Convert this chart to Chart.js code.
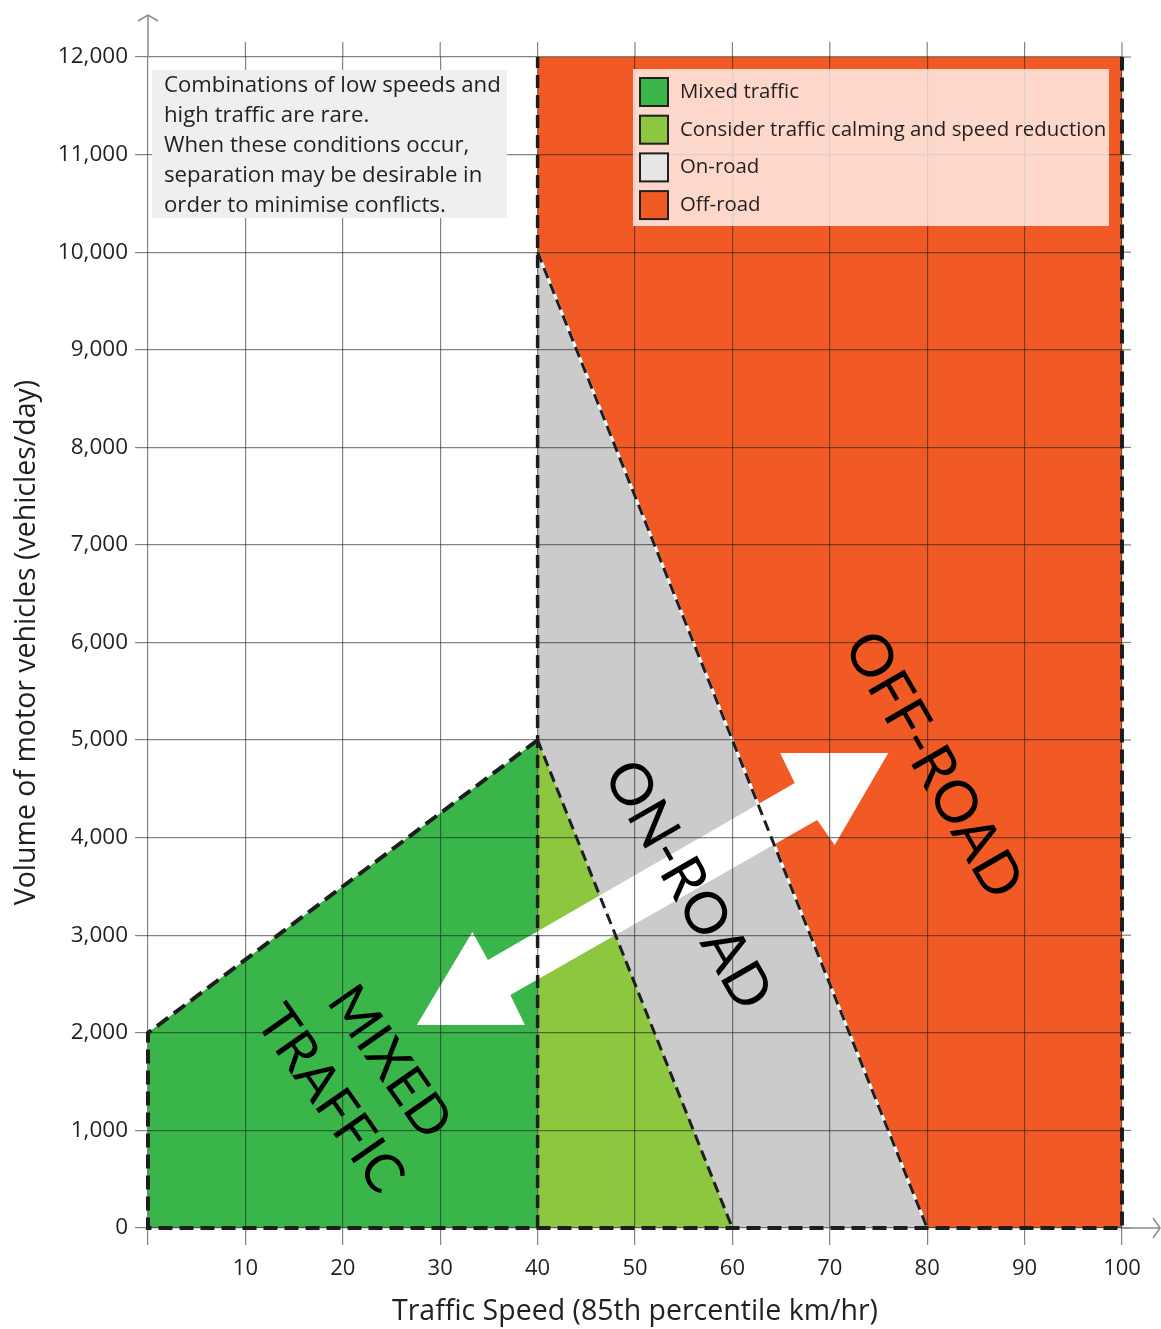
<!DOCTYPE html>
<html>
<head>
<meta charset="utf-8">
<script src="https://cdn.jsdelivr.net/npm/chart.js@4.4.1/dist/chart.umd.min.js"></script>
<style>
  html, body { margin: 0; padding: 0; background: #fff; }
  canvas { display: block; }
</style>
</head>
<body>
<canvas id="chart" width="1161" height="1329"></canvas>
<script>
// ---- data (speed km/h on x, vehicles/day on y) ----
const speedLabels  = ['', '10', '20', '30', '40', '50', '60', '70', '80', '90', '100'];
const volumeLabels = ['0', '1,000', '2,000', '3,000', '4,000', '5,000', '6,000',
                      '7,000', '8,000', '9,000', '10,000', '11,000', '12,000'];

// regions
const mixedX    = [0, 0, 40, 40];
const mixedY    = [0, 2000, 5000, 0];
const calmingX  = [40, 40, 60];
const calmingY  = [0, 5000, 0];
const onRoadX   = [40, 40, 80, 60];
const onRoadY   = [5000, 10000, 0, 0];
const offRoadX  = [40, 40, 100, 100, 80];
const offRoadY  = [10000, 12000, 12000, 0, 0];

// dashed boundaries
const outerX    = [40, 0, 0, 100, 100];
const outerY    = [5000, 2000, 0, 0, 12000];
const split40X  = [40, 40];
const split40Y  = [0, 12000];
const calmEdgeX = [40, 60];
const calmEdgeY = [5000, 0];
const offEdgeX  = [40, 80];
const offEdgeY  = [10000, 0];

// double headed arrow outline
const arrowX = [27.6, 33.3, 34.9, 66.4, 64.9, 76.0, 70.5, 68.7, 37.2, 38.7];
const arrowY = [2080, 3033, 2746, 4560, 4868, 4868, 3925, 4181, 2388, 2080];

const legendLabels = ['Mixed traffic', 'Consider traffic calming and speed reduction', 'On-road', 'Off-road'];
const legendColors = ['#39b54a', '#8dc63f', '#e6e6e6', '#f15a24'];
const noteLines = ['Combinations of low speeds and', 'high traffic are rare.',
                   'When these conditions occur,', 'separation may be desirable in',
                   'order to minimise conflicts.'];

// rotated region labels, anchored in data units
const regionLabels = [
  { text: 'MIXED',    x: 24.8, y: 1700, angle: 55, size: 54 },
  { text: 'TRAFFIC',  x: 18.7, y: 1320, angle: 55, size: 54 },
  { text: 'ON-ROAD',  x: 55.4, y: 3514, angle: 60, size: 58 },
  { text: 'OFF-ROAD', x: 80.6, y: 4744, angle: 60, size: 58 }
];

const pts = (xs, ys) => xs.map((v, i) => ({ x: v, y: ys[i] }));
const gridColor = 'rgba(30,30,30,0.55)';
const font = 'Open Sans';

function area(xs, ys, color, order) {
  return { data: pts(xs, ys), showLine: true, fill: 'shape', backgroundColor: color,
           borderColor: 'rgba(0,0,0,0)', borderWidth: 0, pointRadius: 0, order: order };
}
function edge(xs, ys, color, width, dash, order) {
  return { data: pts(xs, ys), showLine: true, fill: false, borderColor: color,
           borderWidth: width, borderDash: dash, pointRadius: 0, clip: false, order: order };
}

const extras = {
  id: 'extras',
  afterDatasetsDraw(chart) {
    const ctx = chart.ctx, sx = chart.scales.x, sy = chart.scales.y;
    ctx.save();
    ctx.fillStyle = '#000';
    ctx.textAlign = 'center';
    ctx.textBaseline = 'middle';
    regionLabels.forEach(l => {
      ctx.save();
      ctx.font = l.size + 'px Lato';
      ctx.translate(sx.getPixelForValue(l.x), sy.getPixelForValue(l.y));
      ctx.rotate(l.angle * Math.PI / 180);
      ctx.fillText(l.text, 0, 0);
      ctx.restore();
    });
    ctx.restore();
  },
  afterDraw(chart) {
    const ctx = chart.ctx, a = chart.chartArea, sx = chart.scales.x, sy = chart.scales.y;
    const seg = (x1, y1, x2, y2) => { ctx.beginPath(); ctx.moveTo(x1, y1); ctx.lineTo(x2, y2); ctx.stroke(); };
    ctx.save();
    // grid extensions
    ctx.strokeStyle = gridColor;
    ctx.lineWidth = 1.2;
    sx.ticks.forEach(t => { const p = sx.getPixelForValue(t.value); if (t.value > 0) seg(p, a.top - 15, p, a.top); });
    sy.ticks.forEach(t => { const p = sy.getPixelForValue(t.value); seg(a.right, p, a.right + 9, p); });
    // axis arrows
    ctx.strokeStyle = '#8a8a8a';
    ctx.lineWidth = 1.5;
    seg(a.left, a.top, a.left, a.top - 42);
    ctx.beginPath(); ctx.moveTo(a.left - 10, a.top - 36); ctx.lineTo(a.left, a.top - 42); ctx.lineTo(a.left + 10, a.top - 36); ctx.stroke();
    seg(a.right, a.bottom, a.right + 38, a.bottom);
    ctx.beginPath(); ctx.moveTo(a.right + 31, a.bottom - 10); ctx.lineTo(a.right + 38, a.bottom); ctx.lineTo(a.right + 31, a.bottom + 10); ctx.stroke();

    // note box
    ctx.fillStyle = '#efefef';
    ctx.fillRect(a.left + 4, a.top + 13, 355, 148);
    ctx.fillStyle = '#231f20';
    ctx.font = '22.2px "' + font + '"';
    ctx.textAlign = 'left';
    ctx.textBaseline = 'middle';
    noteLines.forEach((t, i) => ctx.fillText(t, a.left + 16, a.top + 29 + i * 29.8));

    // legend box
    const lx = a.left + 485, ly = a.top + 12;
    ctx.fillStyle = 'rgba(255,255,255,0.76)';
    ctx.fillRect(lx, ly, 476, 157);
    legendLabels.forEach((t, i) => {
      const cy = ly + 23 + i * 37.7;
      ctx.fillStyle = legendColors[i];
      ctx.fillRect(lx + 7, cy - 14, 28, 28);
      ctx.strokeStyle = '#231f20';
      ctx.lineWidth = 2;
      ctx.strokeRect(lx + 7, cy - 14, 28, 28);
      ctx.fillStyle = '#231f20';
      ctx.font = '20.4px "' + font + '"';
      ctx.fillText(t, lx + 47, cy);
    });
    ctx.restore();
  }
};

new Chart(document.getElementById('chart'), {
  type: 'scatter',
  data: {
    datasets: [
      edge(outerX, outerY, '#1e1e1e', 4, [14, 7], 1),
      edge(split40X, split40Y, '#1e1e1e', 3.5, [13, 7], 1),
      edge(calmEdgeX, calmEdgeY, '#1e1e1e', 3, [11, 6], 1),
      edge(offEdgeX, offEdgeY, '#1e1e1e', 3, [11, 6], 2),
      edge(offEdgeX, offEdgeY, '#ffffff', 3, [], 3),
      area(arrowX, arrowY, '#ffffff', 5),
      area(mixedX, mixedY, '#39b54a', 10),
      area(calmingX, calmingY, '#8dc63f', 10),
      area(onRoadX, onRoadY, '#cbcbcb', 10),
      area(offRoadX, offRoadY, '#f15a24', 10)
    ]
  },
  options: {
    responsive: false,
    animation: false,
    events: [],
    layout: { padding: { top: 57, right: 39, left: 0, bottom: 0 } },
    plugins: { legend: { display: false }, tooltip: { enabled: false } },
    scales: {
      x: {
        type: 'linear', min: 0, max: 100,
        afterFit: s => { s.height = 101; },
        border: { display: false },
        grid: { z: 1, color: gridColor, lineWidth: 1.2, tickLength: 17 },
        ticks: { stepSize: 10, autoSkip: false, maxRotation: 0, padding: 11, color: '#231f20',
                 font: { family: font, size: 22 }, callback: (v, i) => speedLabels[i] },
        title: { display: true, text: 'Traffic Speed (85th percentile km/hr)', color: '#231f20',
                 font: { family: font, size: 28.5 }, padding: { top: 0, bottom: 0 } }
      },
      y: {
        type: 'linear', min: 0, max: 12000,
        afterFit: s => { s.width = 148; },
        border: { display: false },
        grid: { z: 1, color: gridColor, lineWidth: 1.2, tickLength: 13 },
        ticks: { stepSize: 1000, autoSkip: false, padding: 7, color: '#231f20',
                 font: { family: font, size: 22.5 }, callback: (v, i) => volumeLabels[i] },
        title: { display: true, text: 'Volume of motor vehicles (vehicles/day)', color: '#231f20',
                 font: { family: font, size: 28.5 }, padding: { top: 10, bottom: 0 } }
      }
    }
  },
  plugins: [extras]
});
</script>
</body>
</html>
